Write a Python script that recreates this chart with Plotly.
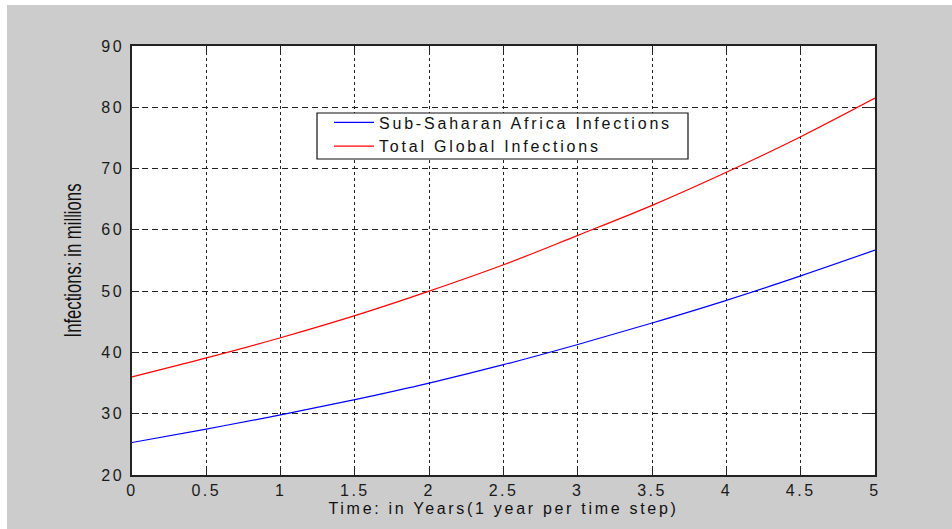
import plotly.graph_objects as go

years = [0, 0.5, 1, 1.5, 2, 2.5, 3, 3.5, 4, 4.5, 5]
africa = [25.3, 27.5, 29.8, 32.3, 35.0, 38.0, 41.3, 44.8, 48.5, 52.5, 56.7]
global_inf = [36.0, 39.1, 42.4, 46.0, 50.0, 54.3, 59.1, 64.0, 69.4, 75.2, 81.5]
series_names = ["Sub-Saharan Africa Infections", "Total Global Infections"]
x_title = "Time: in Years(1 year per time step)"
y_title = "Infections: in millions"

W, H = 952, 529
L, R, T, B = 132, 875, 46, 475
pw, ph = R - L, B - T

def px_x(p):
    return (p - L) / pw

def px_y(p):
    return (B - p) / ph

fig = go.Figure()
fig.add_trace(go.Scatter(x=years, y=africa, mode="lines", name=series_names[0],
                         line=dict(color="#0000ff", width=1.2, shape="spline")))
fig.add_trace(go.Scatter(x=years, y=global_inf, mode="lines", name=series_names[1],
                         line=dict(color="#ff0000", width=1.2, shape="spline")))

axis_common = dict(
    showline=True, linecolor="#222222", linewidth=1.5, mirror="ticks",
    ticks="inside", ticklen=7, tickcolor="#222222", tickwidth=1,
    showgrid=True, gridcolor="#222222", gridwidth=1,
    zeroline=False,
    tickfont=dict(family="Liberation Sans, Arial", size=16, color="#1a1a1a"),
)

fig.update_xaxes(range=[0, 5], dtick=0.5, tick0=0, griddash="3px,3px",
                 title=dict(text=x_title, standoff=5,
                            font=dict(family="Liberation Sans, Arial", size=16, color="#111111")),
                 ticklabelstandoff=0, **axis_common)
fig.update_yaxes(range=[20, 90], dtick=10, tick0=20, griddash="6px,4px",
                 title=dict(text=y_title, standoff=18,
                            font=dict(family="Liberation Sans, Arial", size=24, color="#111111")),
                 ticklabelstandoff=3, **axis_common)

shapes = [
    dict(type="rect", xref="paper", yref="paper", layer="below",
         x0=px_x(7), x1=px_x(W + 5), y0=px_y(H + 5), y1=px_y(5),
         fillcolor="#cccccc", line=dict(width=0)),
    dict(type="rect", xref="paper", yref="paper", layer="below",
         x0=0, x1=1, y0=0, y1=1, fillcolor="#ffffff", line=dict(width=0)),
    dict(type="rect", xref="paper", yref="paper", layer="above",
         x0=px_x(317), x1=px_x(688), y0=px_y(159), y1=px_y(113),
         fillcolor="#ffffff", line=dict(color="#111111", width=1.2)),
]

fig.update_layout(
    width=W, height=H,
    margin=dict(l=L, r=W - R, t=T, b=H - B, pad=0),
    paper_bgcolor="#ffffff", plot_bgcolor="#ffffff",
    shapes=shapes,
    showlegend=True,
    legend=dict(x=px_x(329), y=px_y(105.5), xanchor="left", yanchor="top",
                bgcolor="rgba(0,0,0,0)", borderwidth=0, itemwidth=40,
                font=dict(family="Liberation Sans, Arial", size=16, color="#111111"),
                tracegroupgap=0),
)

post = """
document.body.style.margin = '0';
document.body.style.overflow = 'hidden';
var gd = document.getElementById('{plot_id}');
function spacing(){
  gd.querySelectorAll('.xtick text, .ytick text').forEach(function(t){ t.style.letterSpacing='2.5px'; });
  gd.querySelectorAll('.legendtext').forEach(function(t){ t.style.letterSpacing='2.8px'; });
  gd.querySelectorAll('.g-xtitle text').forEach(function(t){ t.style.letterSpacing='2.7px'; });
  gd.querySelectorAll('.g-ytitle text').forEach(function(t){
    t.setAttribute('textLength', '154');
    t.setAttribute('lengthAdjust', 'spacingAndGlyphs');
  });
  gd.querySelectorAll('.legend [clip-path]').forEach(function(e){ e.removeAttribute('clip-path'); });
}
spacing();
gd.on('plotly_afterplot', spacing);
"""

fig.write_html("out.html", post_script=post, config={"displayModeBar": False})
